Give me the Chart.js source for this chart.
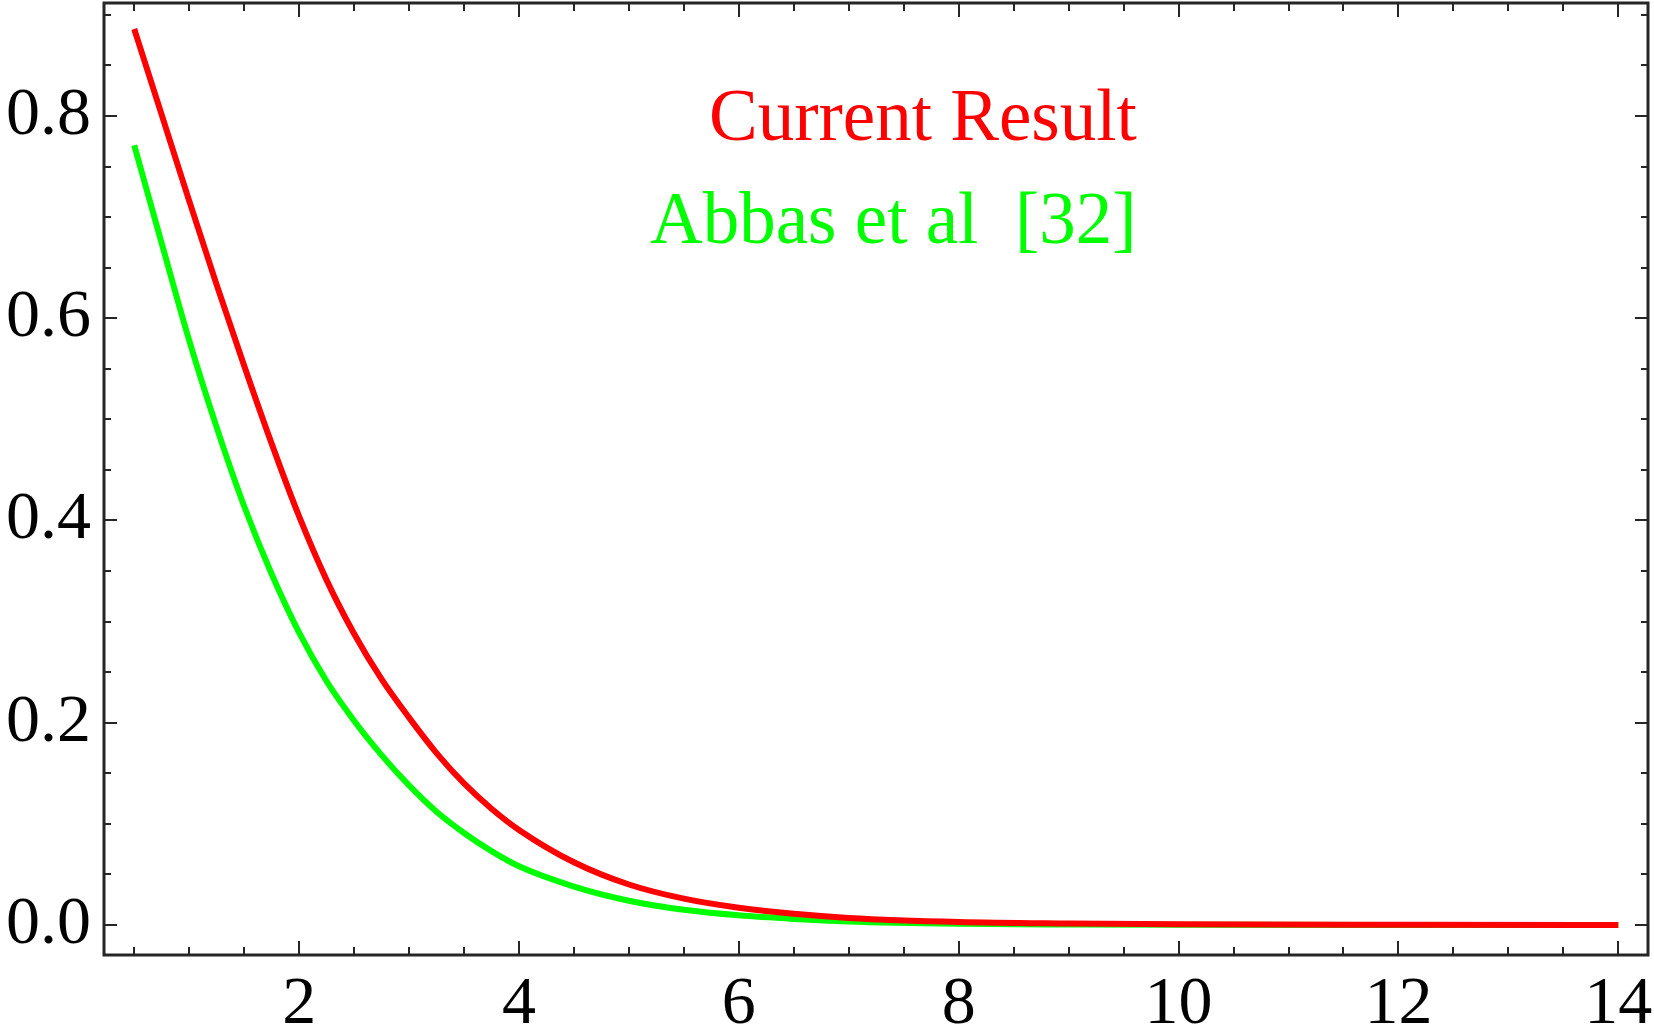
<!DOCTYPE html>
<html>
<head>
<meta charset="utf-8">
<script src="https://cdn.jsdelivr.net/npm/chart.js@4.4.1/dist/chart.umd.min.js"></script>
<style>
  html, body { margin: 0; padding: 0; background: #fff; }
  #wrap { width: 1654px; height: 1032px; }
</style>
</head>
<body>
<div id="wrap"><canvas id="chart" width="1654" height="1032"></canvas></div>
<script>
// values
const etaValues = [0.5, 0.75, 1.0, 1.25, 1.5, 1.75, 2.0, 2.25, 2.5, 2.75, 3.0, 3.25, 3.5, 3.75, 4.0, 4.5, 5.0, 5.5, 6.0, 6.5, 7.0, 8.0, 9.0, 10, 12, 14];
const currentResult = [0.886, 0.801, 0.716, 0.633, 0.553, 0.476, 0.404, 0.341, 0.288, 0.243, 0.205, 0.170, 0.140, 0.115, 0.094, 0.062, 0.040, 0.026, 0.017, 0.011, 0.007, 0.003, 0.0015, 0.0007, 0.0002, 0.0];
const abbasEtAl = [0.771, 0.674, 0.578, 0.492, 0.414, 0.347, 0.289, 0.241, 0.202, 0.168, 0.138, 0.112, 0.091, 0.073, 0.058, 0.038, 0.024, 0.015, 0.0095, 0.006, 0.0035, 0.0012, 0.0004, 0.0001, 0.0, 0.0];

const seriesNames = ['Current Result', 'Abbas et al  [32]'];

// tick marks (all) and labelled ticks
const xTickValues = [0.5, 1, 1.5, 2, 2.5, 3, 3.5, 4, 4.5, 5, 5.5, 6, 6.5, 7, 7.5, 8, 8.5, 9, 9.5, 10, 10.5, 11, 11.5, 12, 12.5, 13, 13.5, 14];
const xLabelValues = [2, 4, 6, 8, 10, 12, 14];
const yTickValues = [0, 0.05, 0.1, 0.15, 0.2, 0.25, 0.3, 0.35, 0.4, 0.45, 0.5, 0.55, 0.6, 0.65, 0.7, 0.75, 0.8, 0.85, 0.9];
const yLabelValues = [0, 0.2, 0.4, 0.6, 0.8];

const FONT = "'Liberation Serif', 'Times New Roman', serif";
const AXIS_COLOR = '#262626';

function isLabelled(list, v) {
    return list.some(function(l) { return Math.abs(l - v) < 1e-6; });
}

function toPoints(ys) {
    return etaValues.map(function(x, i) { return { x: x, y: ys[i] }; });
}

// frame with inward ticks on all four sides, plus the text legend
const framePlugin = {
    id: 'frameTicks',
    afterDraw: function(chart) {
        const ctx = chart.ctx;
        const area = chart.chartArea;
        const xs = chart.scales.x;
        const ys = chart.scales.y;

        ctx.save();
        ctx.strokeStyle = AXIS_COLOR;
        ctx.lineWidth = 2;
        xTickValues.forEach(function(v) {
            const px = Math.round(xs.getPixelForValue(v));
            const len = isLabelled(xLabelValues, v) ? 14 : 8;
            ctx.beginPath();
            ctx.moveTo(px, area.bottom);
            ctx.lineTo(px, area.bottom - len);
            ctx.moveTo(px, area.top);
            ctx.lineTo(px, area.top + len);
            ctx.stroke();
        });
        yTickValues.forEach(function(v) {
            const py = Math.round(ys.getPixelForValue(v));
            const len = isLabelled(yLabelValues, v) ? 13 : 7;
            ctx.beginPath();
            ctx.moveTo(area.left, py);
            ctx.lineTo(area.left + len, py);
            ctx.moveTo(area.right, py);
            ctx.lineTo(area.right - len, py);
            ctx.stroke();
        });

        ctx.lineWidth = 3;
        ctx.strokeRect(area.left, area.top, area.right - area.left, area.bottom - area.top);

        // legend text
        ctx.font = '73px ' + FONT;
        ctx.textAlign = 'left';
        ctx.textBaseline = 'alphabetic';
        ctx.fillStyle = '#ff0000';
        ctx.fillText(seriesNames[0], 709, 140);
        ctx.fillStyle = '#00ff00';
        ctx.fillText(seriesNames[1], 650, 243);
        ctx.restore();
    }
};

const ctx = document.getElementById('chart').getContext('2d');
const chart = new Chart(ctx, {
    type: 'line',
    data: {
        datasets: [{
            label: seriesNames[0],
            data: toPoints(currentResult),
            borderColor: '#ff0000',
            borderWidth: 6,
            pointRadius: 0,
            cubicInterpolationMode: 'monotone',
            fill: false
        }, {
            label: seriesNames[1],
            data: toPoints(abbasEtAl),
            borderColor: '#00ff00',
            borderWidth: 6,
            pointRadius: 0,
            cubicInterpolationMode: 'monotone',
            fill: false
        }]
    },
    options: {
        responsive: false,
        animation: false,
        devicePixelRatio: 1,
        layout: { padding: { top: 3, right: 6, left: 0, bottom: 0 } },
        plugins: {
            legend: { display: false },
            tooltip: { enabled: false }
        },
        scales: {
            x: {
                type: 'linear',
                min: 0.225,
                max: 14.27,
                grid: { display: false, drawTicks: false },
                border: { display: false },
                afterBuildTicks: function(axis) {
                    axis.ticks = xTickValues.map(function(v) { return { value: v }; });
                },
                afterFit: function(axis) {
                    axis.height = 77;
                    axis.paddingLeft = 0;
                    axis.paddingRight = 0;
                },
                ticks: {
                    autoSkip: false,
                    maxRotation: 0,
                    padding: 9,
                    color: '#000',
                    font: { family: FONT, size: 68 },
                    callback: function(v) {
                        return isLabelled(xLabelValues, v) ? String(Math.round(v)) : '';
                    }
                }
            },
            y: {
                type: 'linear',
                min: -0.0297,
                max: 0.9117,
                grid: { display: false, drawTicks: false },
                border: { display: false },
                afterBuildTicks: function(axis) {
                    axis.ticks = yTickValues.map(function(v) { return { value: v }; });
                },
                afterFit: function(axis) {
                    axis.width = 104;
                    axis.paddingTop = 0;
                    axis.paddingBottom = 0;
                },
                ticks: {
                    autoSkip: false,
                    padding: 13,
                    color: '#000',
                    font: { family: FONT, size: 68 },
                    callback: function(v) {
                        return isLabelled(yLabelValues, v) ? v.toFixed(1) : '';
                    }
                }
            }
        }
    },
    plugins: [framePlugin]
});
</script>
</body>
</html>
